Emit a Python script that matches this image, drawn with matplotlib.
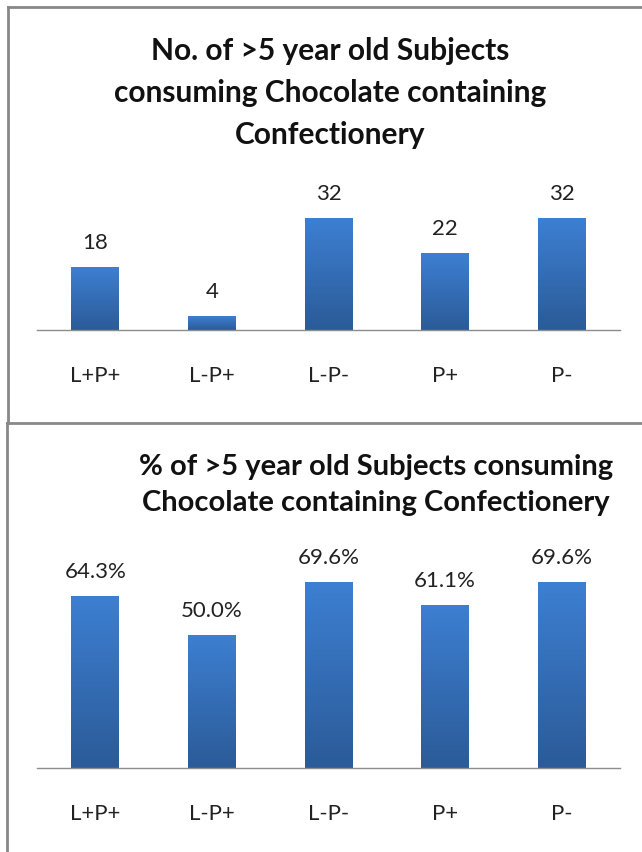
import numpy as np
import matplotlib
matplotlib.use("Agg")
import matplotlib.pyplot as plt
from matplotlib.colors import LinearSegmentedColormap
from matplotlib.lines import Line2D

plt.rcParams['font.family'] = ['Lato', 'DejaVu Sans']

# Data
groups = ['L+P+', 'L-P+', 'L-P-', 'P+', 'P-']
counts = [18, 4, 32, 22, 32]
percents = [64.3, 50.0, 69.6, 61.1, 69.6]

title_counts = 'No. of >5 year old Subjects\nconsuming Chocolate containing\nConfectionery'
title_pct = '% of >5 year old Subjects consuming\nChocolate containing Confectionery'

W, H = 642, 852
fig = plt.figure(figsize=(W / 100, H / 100), dpi=100)
fig.patch.set_facecolor('white')

grad = LinearSegmentedColormap.from_list('barblue', ['#2b5b98', '#3d7fd2'])


def px_axes(left, base, right, top):
    # figure-fraction rectangle from pixel coordinates (origin top-left)
    return fig.add_axes([left / W, 1 - base / H, (right - left) / W, (base - top) / H])


def bar_panel(ax, values, ymax, fmt):
    x = np.arange(len(values))
    bars = ax.bar(x, values, width=0.41, color='none', edgecolor='none', zorder=2)
    g = np.linspace(0, 1, 256).reshape(-1, 1)
    for b in bars:
        x0, w, h = b.get_x(), b.get_width(), b.get_height()
        im = ax.imshow(g, cmap=grad, origin='lower', aspect='auto',
                       extent=[x0, x0 + w, 0, h], zorder=2)
        im.set_clip_path(b)
        ax.annotate(fmt.format(h), (x0 + w / 2, h), xytext=(0, 10),
                    textcoords='offset points', ha='center', va='bottom',
                    fontsize=16, color='#222222')
    ax.set_xlim(-0.5, len(values) - 0.5)
    ax.set_ylim(0, ymax)
    ax.set_xticks(x)
    ax.set_xticklabels(groups, fontsize=16, color='#222222')
    ax.tick_params(axis='x', length=0, pad=26)
    ax.set_yticks([])
    for s in ['top', 'right', 'left']:
        ax.spines[s].set_visible(False)
    ax.spines['bottom'].set_color('#8c8c8c')
    ax.spines['bottom'].set_linewidth(1.0)


ax1 = px_axes(37, 330, 620, 330 - 35 * 3.5)
bar_panel(ax1, counts, 35, '{:.0f}')

ax2 = px_axes(37, 768, 620, 768 - 80 * 2.67)
bar_panel(ax2, percents, 80, '{:.1f}%')

fig.text(330 / W, 1 - 93 / H, title_counts, ha='center', va='center',
         fontsize=21.5, fontweight='bold', linespacing=1.6, color='#111111')
fig.text(376 / W, 1 - 485 / H, title_pct, ha='center', va='center',
         fontsize=21, fontweight='bold', linespacing=1.5, color='#111111')

# panel frames
grey = '#888888'
for (x0, y0, x1, y1) in [(8, 7, 642, 7), (8, 7, 8, 423),
                         (7, 423, 642, 423), (7, 423, 7, 852)]:
    fig.add_artist(Line2D([x0 / W, x1 / W], [1 - y0 / H, 1 - y1 / H],
                          color=grey, lw=2.0, transform=fig.transFigure))

fig.savefig('out.png', dpi=100)
